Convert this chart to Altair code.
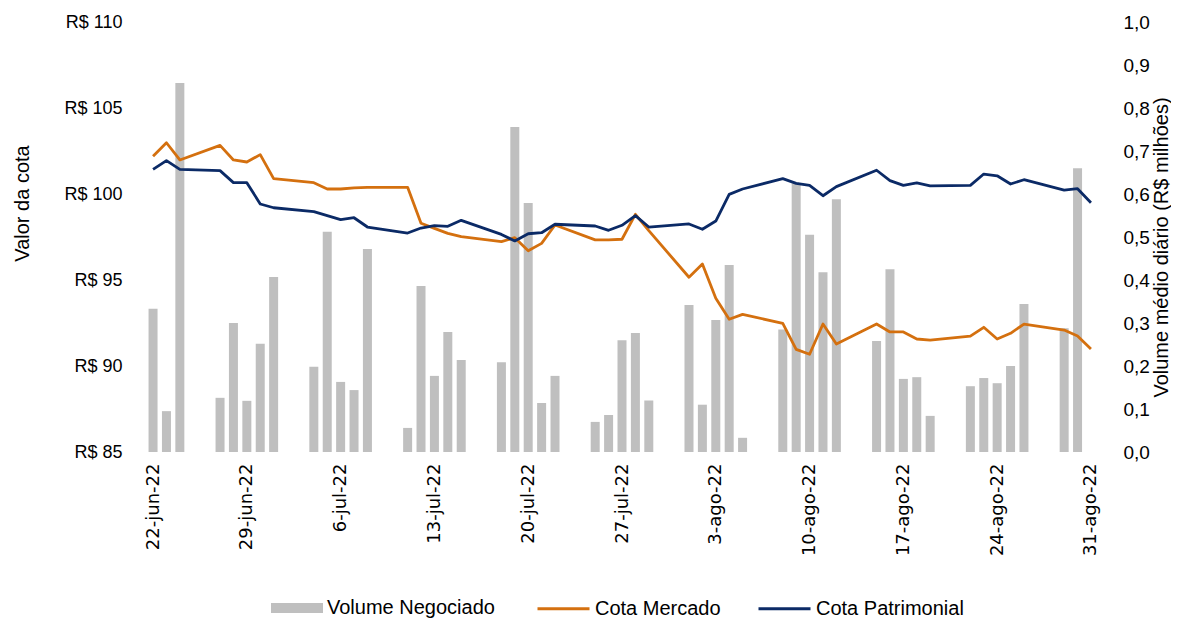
import altair as alt
import pandas as pd

# ---------------- data ----------------
dates = [
    "2022-06-22", "2022-06-23", "2022-06-24", "2022-06-27", "2022-06-28", "2022-06-29", "2022-06-30",
    "2022-07-01", "2022-07-04", "2022-07-05", "2022-07-06", "2022-07-07", "2022-07-08",
    "2022-07-11", "2022-07-12", "2022-07-13", "2022-07-14", "2022-07-15",
    "2022-07-18", "2022-07-19", "2022-07-20", "2022-07-21", "2022-07-22",
    "2022-07-25", "2022-07-26", "2022-07-27", "2022-07-28", "2022-07-29",
    "2022-08-01", "2022-08-02", "2022-08-03", "2022-08-04", "2022-08-05",
    "2022-08-08", "2022-08-09", "2022-08-10", "2022-08-11", "2022-08-12",
    "2022-08-15", "2022-08-16", "2022-08-17", "2022-08-18", "2022-08-19",
    "2022-08-22", "2022-08-23", "2022-08-24", "2022-08-25", "2022-08-26",
    "2022-08-29", "2022-08-30", "2022-08-31",
]

volume = [
    0.333, 0.095, 0.858, 0.126, 0.300, 0.119, 0.252,
    0.407, 0.198, 0.512, 0.163, 0.144, 0.472,
    0.056, 0.386, 0.177, 0.279, 0.214,
    0.209, 0.756, 0.579, 0.114, 0.177,
    0.070, 0.086, 0.260, 0.277, 0.120,
    0.342, 0.110, 0.307, 0.435, 0.033,
    0.285, 0.625, 0.505, 0.418, 0.588,
    0.258, 0.425, 0.170, 0.174, 0.084,
    0.153, 0.172, 0.160, 0.200, 0.344,
    0.288, 0.660, None,
]

cota_mercado = [
    102.20, 102.98, 101.98, 102.83, 101.98, 101.86, 102.29,
    100.89, 100.66, 100.29, 100.29, 100.36, 100.39,
    100.39, 98.30, 98.00, 97.71, 97.52,
    97.23, 97.46, 96.70, 97.13, 98.20,
    97.33, 97.33, 97.37, 98.82, 97.87,
    95.16, 95.93, 93.94, 92.72, 93.00,
    92.48, 90.97, 90.68, 92.44, 91.28,
    92.44, 91.98, 91.98, 91.57, 91.51,
    91.74, 92.25, 91.57, 91.90, 92.44,
    92.09, 91.74, 90.99,
]

cota_patrimonial = [
    101.43, 101.94, 101.43, 101.36, 100.66, 100.66, 99.42,
    99.20, 98.97, 98.74, 98.51, 98.62, 98.08,
    97.73, 98.02, 98.16, 98.12, 98.47,
    97.65, 97.27, 97.69, 97.75, 98.24,
    98.14, 97.89, 98.18, 98.74, 98.08,
    98.26, 97.95, 98.43, 99.98, 100.29,
    100.89, 100.62, 100.50, 99.90, 100.43,
    101.38, 100.78, 100.50, 100.64, 100.47,
    100.50, 101.16, 101.06, 100.58, 100.83,
    100.23, 100.31, 99.49,
]

tick_labels = ["22-jun-22", "29-jun-22", "6-jul-22", "13-jul-22", "20-jul-22", "27-jul-22",
               "3-ago-22", "10-ago-22", "17-ago-22", "24-ago-22", "31-ago-22"]

series_names = ["Volume Negociado", "Cota Mercado", "Cota Patrimonial"]
series_colors = ["#BFBFBF", "#D4700F", "#0B2A66"]

# ---------------- frames ----------------
start = pd.Timestamp(dates[0])
days = [(pd.Timestamp(d) - start).days for d in dates]

bars_df = pd.DataFrame({"day": days, "volume": volume, "serie": series_names[0]})
bars_df = bars_df.dropna()

lines_df = pd.concat([
    pd.DataFrame({"day": days, "valor": cota_mercado, "serie": series_names[1]}),
    pd.DataFrame({"day": days, "valor": cota_patrimonial, "serie": series_names[2]}),
])

tick_values = [7 * i for i in range(len(tick_labels))]
label_expr = "[" + ",".join("'" + t + "'" for t in tick_labels) + "][round(datum.value / 7)]"

x_enc = alt.X(
    "day:Q",
    scale=alt.Scale(domain=[-0.75, 70.75], nice=False, zero=False),
    axis=alt.Axis(
        values=tick_values, labelExpr=label_expr, labelAngle=270, title=None,
        grid=False, ticks=False, domain=False, labelPadding=11,
        labelFont="DejaVu Sans", labelFontSize=18, labelColor="#000000",
        labelOverlap=False, labelBound=False, labelFlush=False,
    ),
)

bars = alt.Chart(bars_df).mark_bar(size=9).encode(
    x=x_enc,
    y=alt.Y(
        "volume:Q",
        scale=alt.Scale(domain=[0, 1], nice=False),
        axis=alt.Axis(
            orient="right", values=[i / 10 for i in range(11)],
            labelExpr="replace(format(datum.value, '.1f'), '.', ',')",
            grid=False, ticks=False, domain=False, labelPadding=17,
            labelFont="Liberation Sans", labelFontSize=19, labelColor="#000000",
            title="Volume médio diário (R$ milhões)", titleFont="Liberation Sans",
            titleFontSize=20, titleFontWeight="normal", titleColor="#000000",
            titleAngle=270, titleX=55, titleY=225, titleAlign="center", titleBaseline="middle",
            titleLimit=0,
        ),
    ),
    fill=alt.Fill(
        "serie:N",
        scale=alt.Scale(domain=[series_names[0]], range=[series_colors[0]]),
        legend=alt.Legend(
            orient="none", legendX=133, legendY=560, title=None,
            symbolType="M-1,-0.19H1V0.19H-1Z", symbolSize=2704, symbolStrokeWidth=0,
            labelFont="Liberation Sans", labelFontSize=20, labelColor="#000000",
            labelOffset=4, labelLimit=0, padding=0,
        ),
    ),
)

lines = alt.Chart(lines_df).mark_line(strokeWidth=2.8, strokeJoin="round").encode(
    x=x_enc,
    y=alt.Y(
        "valor:Q",
        scale=alt.Scale(domain=[85, 110], nice=False, zero=False),
        axis=alt.Axis(
            orient="left", values=[85, 90, 95, 100, 105, 110],
            labelExpr="'R$ ' + datum.value",
            grid=False, ticks=False, domain=False, labelPadding=16,
            labelFont="Liberation Sans", labelFontSize=18, labelColor="#000000",
            title="Valor da cota", titleFont="Liberation Sans", titleFontSize=20,
            titleFontWeight="normal", titleColor="#000000",
            titleAngle=270, titleX=-116, titleY=181, titleAlign="center", titleBaseline="middle",
        ),
    ),
    stroke=alt.Stroke(
        "serie:N",
        scale=alt.Scale(domain=series_names[1:], range=series_colors[1:]),
        legend=alt.Legend(
            orient="none", legendX=398, legendY=559, title=None, direction="horizontal",
            symbolType="stroke", symbolSize=2704, symbolStrokeWidth=3,
            labelFont="Liberation Sans", labelFontSize=20, labelColor="#000000",
            labelOffset=4, labelLimit=0, columnPadding=31, padding=0,
        ),
    ),
    detail="serie:N",
)

chart = alt.layer(bars, lines).resolve_scale(
    y="independent", fill="independent", stroke="independent"
).properties(
    width=968, height=430,
    autosize=alt.AutoSizeParams(type="none"),
    padding={"left": 130, "top": 14, "right": 65, "bottom": 167},
).configure_view(stroke=None)

chart.save("out.html", embed_options={"renderer": "svg", "actions": False})
